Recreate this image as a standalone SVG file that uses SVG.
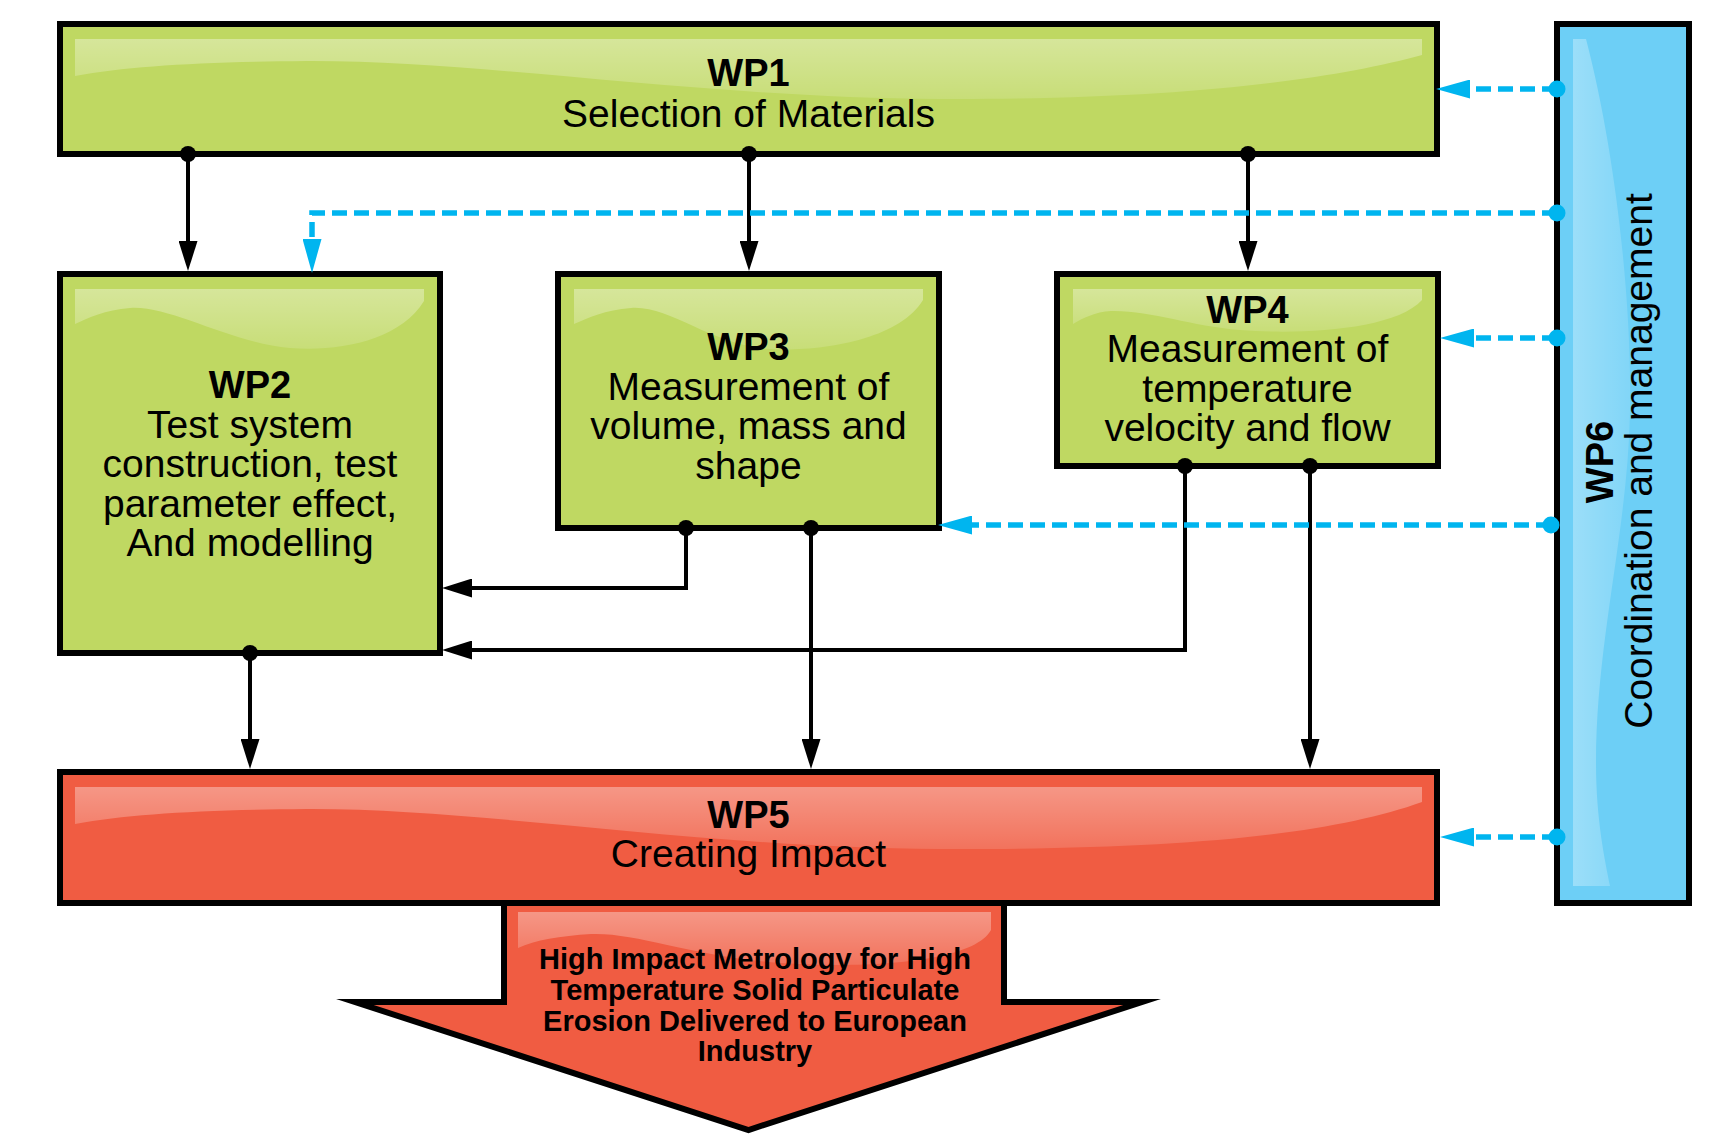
<svg xmlns="http://www.w3.org/2000/svg" width="1726" height="1134" viewBox="0 0 1726 1134">
<defs>
<style>
.box{stroke:#000;stroke-width:6;stroke-miterlimit:10}
.green{fill:#bfd862}
.red{fill:#f05c42}
.blue{fill:#6dcff6}
.gloss{fill:url(#gl)}
.t{font-family:"Liberation Sans",Arial,sans-serif;font-size:39px;text-anchor:middle;fill:#000}
.b{font-weight:bold;font-size:38px}
.s{font-weight:bold;font-size:29px}
.conn{stroke:#000;stroke-width:4;fill:none}
.dash{stroke:#00b5ef;stroke-width:5.5;stroke-dasharray:15 7;fill:none}
.dot{fill:#000}
.bdot{fill:#00b5ef}
</style>
<linearGradient id="gl" x1="0" y1="0" x2="0" y2="1">
<stop offset="0" stop-color="#fff" stop-opacity="0.36"/>
<stop offset="1" stop-color="#fff" stop-opacity="0.14"/>
</linearGradient>
<linearGradient id="glv" x1="0" y1="0" x2="1" y2="0">
<stop offset="0" stop-color="#fff" stop-opacity="0.32"/>
<stop offset="1" stop-color="#fff" stop-opacity="0.14"/>
</linearGradient>
<marker id="ah" viewBox="0 0 30 19" refX="20" refY="9.5" markerWidth="30" markerHeight="19" markerUnits="userSpaceOnUse" orient="auto">
<path d="M0,0 L30,9.5 L0,19 Z" fill="#000"/>
</marker>
<marker id="bh" viewBox="0 0 34 19" refX="22" refY="9.5" markerWidth="34" markerHeight="19" markerUnits="userSpaceOnUse" orient="auto">
<path d="M0,0 L34,9.5 L0,19 Z" fill="#00b5ef"/>
</marker>
</defs>
<rect width="1726" height="1134" fill="#fff"/>

<g id="output">
<polygon class="box red" points="504,900 504,1002 355,1002 748.5,1130 1142,1002 1004,1002 1004,900"/>
<path class="gloss" d="M518,912 H991 V930 C975,960 880,968 800,964 C700,960 640,932 591,934 C560,936 535,940 518,948 Z"/>
<text class="t s" x="755" y="969">High Impact Metrology for High</text>
<text class="t s" x="755" y="1000">Temperature Solid Particulate</text>
<text class="t s" x="755" y="1030.5">Erosion Delivered to European</text>
<text class="t s" x="755" y="1061">Industry</text>
</g>

<g id="wp1">
<rect class="box green" x="60" y="24" width="1377" height="130"/>
<path class="gloss" d="M75,39 H1422 V55 C1330,80 1180,100 940,99 C700,98 480,60 306,61 C200,62 130,66 75,76 Z"/>
<text class="t b" x="748.5" y="86">WP1</text>
<text class="t" x="748.5" y="127">Selection of Materials</text>
</g>

<g id="wp2">
<rect class="box green" x="60" y="274" width="380" height="379"/>
<path class="gloss" d="M75,289 H424 V301 C400,340 340,352 290,348 C230,343 170,305 130,308 C105,310 88,318 75,324 Z"/>
<text class="t b" x="250" y="398">WP2</text>
<text class="t" x="250" y="437.5">Test system</text>
<text class="t" x="250" y="477">construction, test</text>
<text class="t" x="250" y="516.5">parameter effect,</text>
<text class="t" x="250" y="556">And modelling</text>
</g>

<g id="wp3">
<rect class="box green" x="558" y="274" width="381" height="254"/>
<path class="gloss" d="M574,289 H923 V300 C899,340 820,352 770,349 C710,345 670,305 631,308 C605,310 588,318 574,324 Z"/>
<text class="t b" x="748.5" y="359.5">WP3</text>
<text class="t" x="748.5" y="399.5">Measurement of</text>
<text class="t" x="748.5" y="439">volume, mass and</text>
<text class="t" x="748.5" y="478.5">shape</text>
</g>

<g id="wp4">
<rect class="box green" x="1057" y="274" width="381" height="192"/>
<path class="gloss" d="M1073,289 H1422 V300 C1395,330 1300,335 1240,330 C1190,326 1150,310 1111,311 C1095,312 1083,318 1073,324 Z"/>
<text class="t b" x="1247.5" y="322.5">WP4</text>
<text class="t" x="1247.5" y="362">Measurement of</text>
<text class="t" x="1247.5" y="401.5">temperature</text>
<text class="t" x="1247.5" y="441">velocity and flow</text>
</g>

<g id="wp5">
<rect class="box red" x="60" y="772" width="1377" height="131"/>
<path class="gloss" d="M75,787 H1422 V802 C1330,835 1180,850 940,849 C700,848 480,808 306,809 C200,810 130,814 75,824 Z"/>
<text class="t b" x="748.5" y="828">WP5</text>
<text class="t" x="748.5" y="867">Creating Impact</text>
</g>

<g id="wp6">
<rect class="box blue" x="1557" y="24" width="132" height="879"/>
<path fill="url(#glv)" d="M1573,39 H1586 C1615,150 1632,300 1630,411 C1628,530 1596,640 1596,763 C1596,820 1605,860 1610,886 H1573 Z"/>
<text class="t b" x="1613" y="462" transform="rotate(-90 1613 462)">WP6</text>
<text class="t" x="1652" y="461" transform="rotate(-90 1652 461)">Coordination and management</text>
</g>

<g id="connectors">
<path class="conn" d="M188,154 V261" marker-end="url(#ah)"/>
<path class="conn" d="M749,154 V261" marker-end="url(#ah)"/>
<path class="conn" d="M1248,154 V261" marker-end="url(#ah)"/>
<path class="conn" d="M686,528 V588 H452" marker-end="url(#ah)"/>
<path class="conn" d="M1185,466 V650 H452" marker-end="url(#ah)"/>
<path class="conn" d="M811,528 V759" marker-end="url(#ah)"/>
<path class="conn" d="M1310,466 V759" marker-end="url(#ah)"/>
<path class="conn" d="M250,653 V759" marker-end="url(#ah)"/>
<circle class="dot" cx="188" cy="154" r="8"/>
<circle class="dot" cx="749" cy="154" r="8"/>
<circle class="dot" cx="1248" cy="154" r="8"/>
<circle class="dot" cx="686" cy="528" r="8"/>
<circle class="dot" cx="811" cy="528" r="8"/>
<circle class="dot" cx="1185" cy="466" r="8"/>
<circle class="dot" cx="1310" cy="466" r="8"/>
<circle class="dot" cx="250" cy="653" r="8"/>

<path class="dash" d="M1557,89 H1448" marker-end="url(#bh)"/>
<path class="dash" d="M1557,213 H312 V261" marker-end="url(#bh)"/>
<path class="dash" d="M1557,338 H1452" marker-end="url(#bh)"/>
<path class="dash" d="M1551,525 H950" marker-end="url(#bh)"/>
<path class="dash" d="M1557,837 H1452" marker-end="url(#bh)"/>
<circle class="bdot" cx="1557" cy="89" r="8.5"/>
<circle class="bdot" cx="1557" cy="213" r="8.5"/>
<circle class="bdot" cx="1557" cy="338" r="8.5"/>
<circle class="bdot" cx="1551" cy="525" r="8.5"/>
<circle class="bdot" cx="1557" cy="837" r="8.5"/>
</g>
</svg>
